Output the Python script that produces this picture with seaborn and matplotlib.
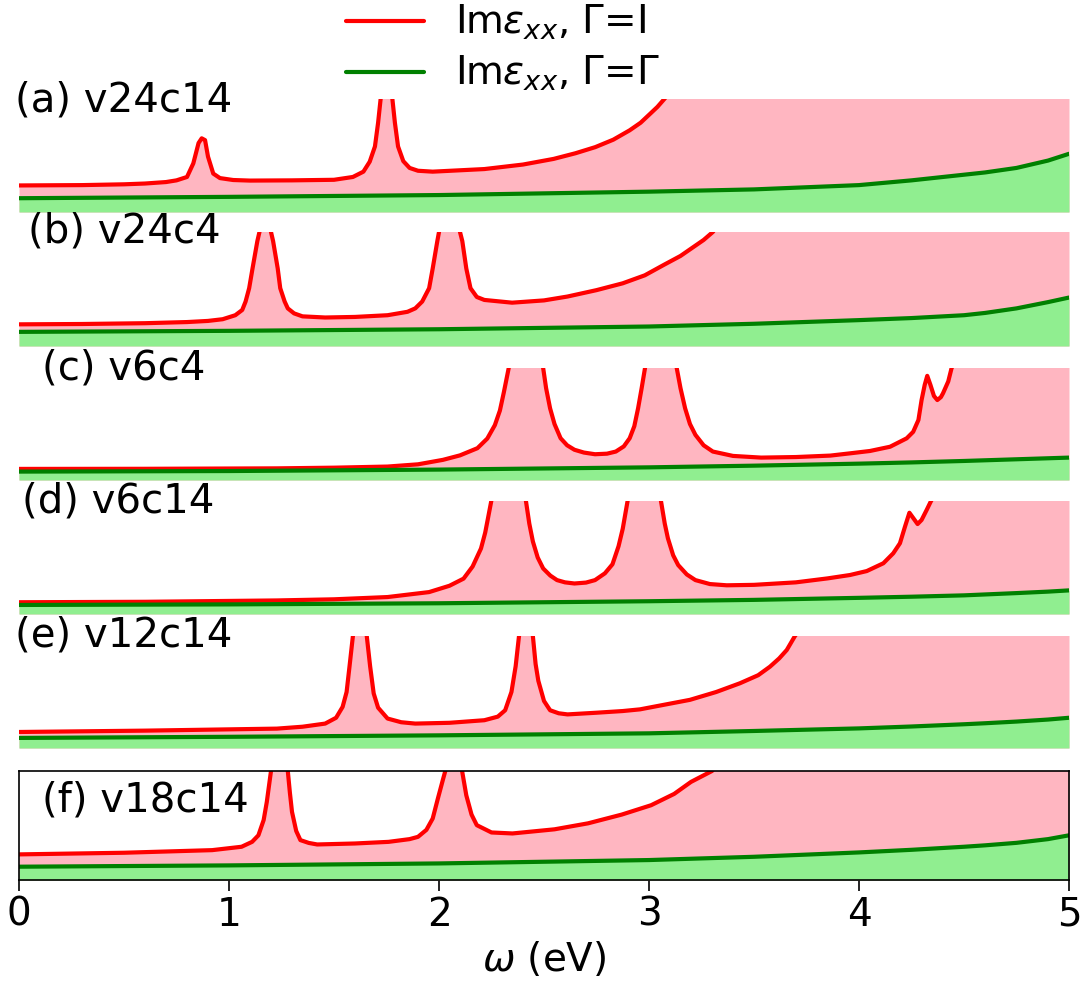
import matplotlib
matplotlib.use("Agg")
import matplotlib.pyplot as plt
import seaborn as sns

# panel labels
labels = ["(a) v24c14", "(b) v24c4", "(c) v6c4", "(d) v6c14", "(e) v12c14", "(f) v18c14"]

# green curve (Gamma=Gamma), common x grid, values as fraction of panel height
green_x = [0, 1, 2, 3, 3.5, 4, 4.25, 4.5, 4.6, 4.75, 4.9, 5]
a_green = [0.122, 0.134, 0.15, 0.18, 0.2, 0.238, 0.28, 0.33, 0.35, 0.39, 0.455, 0.515]
b_green = [0.124, 0.133, 0.147, 0.171, 0.195, 0.227, 0.245, 0.27, 0.29, 0.33, 0.385, 0.425]
c_green = [0.075, 0.08, 0.093, 0.113, 0.128, 0.146, 0.157, 0.17, 0.176, 0.185, 0.194, 0.2]
d_green = [0.08, 0.085, 0.095, 0.113, 0.125, 0.143, 0.153, 0.165, 0.173, 0.185, 0.198, 0.209]
e_green = [0.09, 0.1, 0.113, 0.131, 0.152, 0.175, 0.192, 0.212, 0.221, 0.236, 0.254, 0.27]
f_green = [0.122, 0.134, 0.152, 0.183, 0.213, 0.253, 0.277, 0.305, 0.318, 0.341, 0.375, 0.41]

# red curve (Gamma=I)
a_x = [0, 0.3, 0.5, 0.6, 0.7, 0.75, 0.8, 0.83, 0.855, 0.87, 0.886, 0.9, 0.925, 0.957, 1.02, 1.1,
       1.3, 1.5, 1.59, 1.64, 1.67, 1.695, 1.71, 1.722, 1.75, 1.778, 1.79, 1.805, 1.83, 1.86, 1.9,
       1.97, 2.216, 2.4, 2.546, 2.65, 2.744, 2.83, 2.908, 2.96, 3.007, 3.04, 3.073, 3.3, 5]
a_red = [0.235, 0.238, 0.245, 0.252, 0.265, 0.28, 0.31, 0.43, 0.61, 0.652, 0.636, 0.49, 0.34, 0.3, 0.283, 0.278,
         0.28, 0.285, 0.31, 0.357, 0.445, 0.58, 0.79, 1.0, 3.0, 1.0, 0.79, 0.58, 0.45, 0.39, 0.365,
         0.357, 0.38, 0.42, 0.47, 0.52, 0.574, 0.64, 0.723, 0.79, 0.872, 0.93, 1.0, 1.5, 3.0]

b_x = [0, 0.3, 0.6, 0.8, 0.9, 0.97, 1.03, 1.063, 1.079, 1.096, 1.112, 1.135, 1.145, 1.172, 1.2, 1.21,
       1.232, 1.244, 1.265, 1.28, 1.31, 1.35, 1.458, 1.6, 1.755, 1.85, 1.887, 1.92, 1.953, 1.97,
       1.992, 2.0, 2.051, 2.1, 2.111, 2.13, 2.15, 2.18, 2.216, 2.348, 2.5, 2.612, 2.75, 2.875,
       2.98, 3.073, 3.15, 3.205, 3.26, 3.304, 3.5, 5]
b_red = [0.19, 0.193, 0.2, 0.21, 0.22, 0.235, 0.27, 0.316, 0.39, 0.507, 0.68, 0.92, 1.0, 3.0, 1.0, 0.92,
         0.68, 0.507, 0.39, 0.33, 0.286, 0.26, 0.25, 0.255, 0.27, 0.3, 0.33, 0.39, 0.507, 0.68,
         0.92, 1.0, 3.0, 1.0, 0.92, 0.68, 0.507, 0.43, 0.404, 0.38, 0.4, 0.434, 0.49, 0.55,
         0.62, 0.714, 0.79, 0.86, 0.93, 1.0, 1.5, 3.0]

c_x = [0, 0.6, 1.228, 1.5, 1.755, 1.9, 2.019, 2.1, 2.183, 2.23, 2.266, 2.29, 2.309, 2.332, 2.414,
       2.496, 2.51, 2.529, 2.55, 2.579, 2.61, 2.645, 2.69, 2.743, 2.8, 2.842, 2.88, 2.908, 2.93,
       2.948, 2.965, 2.981, 3.057, 3.132, 3.15, 3.172, 3.195, 3.221, 3.26, 3.304, 3.4, 3.534, 3.7,
       3.864, 3.957, 4.052, 4.148, 4.227, 4.258, 4.283, 4.298, 4.313, 4.325, 4.34, 4.357, 4.373,
       4.39, 4.4, 4.425, 4.441, 4.6, 5]
c_red = [0.099, 0.1, 0.104, 0.11, 0.12, 0.14, 0.18, 0.22, 0.284, 0.37, 0.49, 0.62, 0.785, 1.0, 3.0,
         1.0, 0.82, 0.64, 0.5, 0.373, 0.31, 0.27, 0.245, 0.23, 0.235, 0.254, 0.3, 0.373, 0.48,
         0.64, 0.82, 1.0, 3.0, 1.0, 0.82, 0.64, 0.5, 0.403, 0.31, 0.254, 0.215, 0.2, 0.205,
         0.218, 0.238, 0.259, 0.297, 0.372, 0.43, 0.536, 0.714, 0.85, 0.93, 0.85, 0.75, 0.714,
         0.74, 0.774, 0.88, 1.0, 1.5, 3.0]

d_x = [0, 0.6, 1.228, 1.5, 1.755, 1.953, 2.05, 2.117, 2.16, 2.2, 2.22, 2.233, 2.249, 2.332, 2.414,
       2.43, 2.447, 2.47, 2.496, 2.53, 2.562, 2.6, 2.645, 2.7, 2.743, 2.79, 2.826, 2.855, 2.875,
       2.898, 2.974, 3.057, 3.075, 3.09, 3.115, 3.139, 3.18, 3.221, 3.29, 3.37, 3.5, 3.699, 3.85,
       3.957, 4.037, 4.116, 4.163, 4.195, 4.219, 4.24, 4.258, 4.279, 4.298, 4.322, 4.343, 4.5, 5]
d_red = [0.104, 0.108, 0.12, 0.13, 0.15, 0.194, 0.25, 0.313, 0.42, 0.58, 0.72, 0.845, 1.0, 3.0, 1.0,
         0.8, 0.642, 0.5, 0.403, 0.34, 0.3, 0.28, 0.27, 0.278, 0.3, 0.36, 0.44, 0.6, 0.755,
         1.0, 3.0, 1.0, 0.8, 0.67, 0.52, 0.433, 0.35, 0.3, 0.265, 0.254, 0.258, 0.28, 0.315,
         0.345, 0.38, 0.449, 0.537, 0.626, 0.773, 0.896, 0.85, 0.796, 0.832, 0.92, 1.0, 1.5, 3.0]

e_x = [0, 0.6, 1.228, 1.35, 1.458, 1.51, 1.541, 1.56, 1.574, 1.59, 1.623, 1.656, 1.672, 1.689, 1.71,
       1.755, 1.82, 1.887, 2.05, 2.216, 2.28, 2.315, 2.345, 2.365, 2.381, 2.414, 2.447, 2.46, 2.473,
       2.5, 2.529, 2.57, 2.612, 2.75, 2.875, 2.957, 3.195, 3.32, 3.433, 3.52, 3.576, 3.62, 3.656,
       3.695, 3.9, 5]
e_red = [0.143, 0.155, 0.173, 0.19, 0.218, 0.27, 0.367, 0.5, 0.73, 1.0, 3.0, 1.0, 0.73, 0.487, 0.36,
         0.263, 0.23, 0.218, 0.225, 0.248, 0.28, 0.337, 0.5, 0.73, 1.0, 3.0, 1.0, 0.75, 0.6,
         0.42, 0.337, 0.31, 0.3, 0.315, 0.33, 0.345, 0.43, 0.5, 0.578, 0.65, 0.726, 0.8, 0.875,
         1.0, 1.5, 3.0]

f_x = [0, 0.5, 0.92, 1.06, 1.11, 1.14, 1.165, 1.18, 1.2, 1.24, 1.28, 1.29, 1.3, 1.32, 1.34, 1.38,
       1.42, 1.6, 1.76, 1.86, 1.9, 1.94, 1.97, 1.995, 2.02, 2.03, 2.07, 2.11, 2.13, 2.155, 2.18,
       2.25, 2.35, 2.55, 2.71, 2.87, 3.01, 3.12, 3.2, 3.3, 3.5, 5]
f_red = [0.235, 0.25, 0.274, 0.305, 0.35, 0.41, 0.55, 0.716, 1.0, 3.0, 1.0, 0.8, 0.625, 0.45, 0.366, 0.34,
         0.326, 0.335, 0.35, 0.375, 0.396, 0.46, 0.564, 0.75, 0.93, 1.0, 3.0, 1.0, 0.777, 0.6, 0.503,
         0.436, 0.427, 0.465, 0.52, 0.6, 0.686, 0.79, 0.9, 1.0, 1.5, 3.0]

red_x = [a_x, b_x, c_x, d_x, e_x, f_x]
red_y = [a_red, b_red, c_red, d_red, e_red, f_red]
green_y = [a_green, b_green, c_green, d_green, e_green, f_green]

sns.set_style("white")
plt.rcParams["font.family"] = ["DejaVu Sans"]
plt.rcParams["text.color"] = "black"
plt.rcParams["axes.labelcolor"] = "black"
plt.rcParams["xtick.color"] = "black"

fig = plt.figure(figsize=(10.86, 9.94), dpi=100)

# panel rectangles in pixels -> figure fraction
left, width = 19 / 1086, 1050 / 1086
tops = [99, 232, 368, 501, 636, 771]
bots = [212, 346, 480, 614, 748, 880]
label_pos = [(-0.004, 0.99), (0.009, 1.0), (0.022, 1.0), (0.003, 1.0), (-0.004, 1.0), (0.022, 0.73)]

axes = []
for i in range(6):
    b = 1 - bots[i] / 994
    h = (bots[i] - tops[i]) / 994
    ax = fig.add_axes([left, b, width, h])
    axes.append(ax)
    ax.fill_between(red_x[i], 0, red_y[i], color="lightpink", lw=0)
    ax.fill_between(green_x, 0, green_y[i], color="lightgreen", lw=0)
    sns.lineplot(x=red_x[i], y=red_y[i], ax=ax, color="red", lw=3,
                 label=r"Im$\epsilon_{xx}$, Γ=I" if i == 0 else None)
    sns.lineplot(x=green_x, y=green_y[i], ax=ax, color="green", lw=3,
                 label=r"Im$\epsilon_{xx}$, Γ=Γ" if i == 0 else None)
    ax.set_xlim(0, 5)
    ax.set_ylim(0, 1)
    ax.set_yticks([])
    ax.set_ylabel("")
    ax.text(label_pos[i][0], label_pos[i][1], labels[i], transform=ax.transAxes,
            fontsize=29, va="center", ha="left", clip_on=False, zorder=10)
    if i < 5:
        ax.set_axis_off()
    else:
        for s in ax.spines.values():
            s.set_visible(True)
            s.set_color("black")
            s.set_linewidth(1.2)
        ax.set_xticks([0, 1, 2, 3, 4, 5])
        ax.tick_params(axis="x", labelsize=28, length=8, width=1.2, bottom=True, direction="out")
        ax.set_xlabel(r"$\omega$ (eV)", fontsize=28)
    if ax.get_legend() is not None:
        ax.get_legend().remove()

h_, l_ = axes[0].get_legend_handles_labels()
fig.legend(h_, l_, loc="upper center", bbox_to_anchor=(0.463, 1.032), frameon=False,
           fontsize=28, handlelength=2, labelspacing=0.3)

fig.savefig("out.png", dpi=100)
